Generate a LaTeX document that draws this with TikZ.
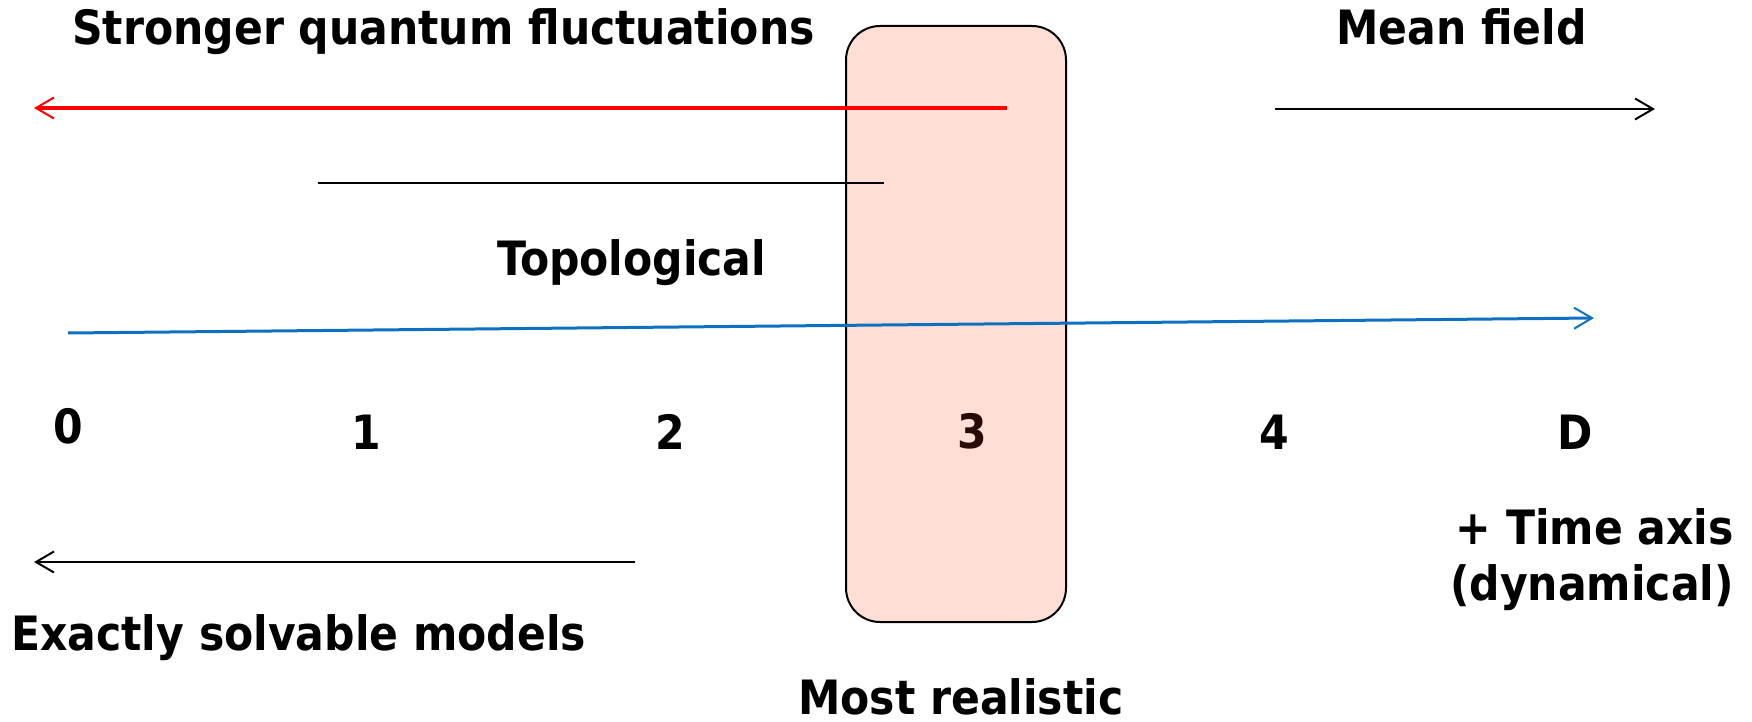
\documentclass[tikz,border=0pt]{standalone}
\usepackage{fontspec}
\setmainfont{DejaVu Sans Condensed}
\usetikzlibrary{arrows.meta}
\definecolor{boxfill}{HTML}{FFDED6}
\definecolor{axisblue}{HTML}{1070C0}
\definecolor{threebrown}{HTML}{2A0A05}
\tikzset{
  lbl/.style={font=\fontsize{47.3}{56}\selectfont\bfseries, inner sep=0pt},
  tip/.style={-{Straight Barb[length=18pt,width=21pt,line width=2pt]}},
}
\begin{document}
\begin{tikzpicture}[x=1pt,y=-1pt]
\useasboundingbox (0,0) rectangle (1752,722);
% dimension 3 highlight box
\node[draw=black, line width=2pt, fill=boxfill, rounded corners=34pt,
      minimum width=220pt, minimum height=596pt] (box) at (956,324) {};
% headings
\node[lbl, anchor=base west] (strong) at (72,45) {Stronger quantum fluctuations};
\node[lbl, anchor=base west] (mf) at (1336,45) {Mean field};
\node[lbl, anchor=base west] (topo) at (497,275) {Topological};
\node[lbl, anchor=base west] (exact) at (11,650) {Exactly solvable models};
\node[lbl, anchor=base west] (real) at (798,714) {Most realistic};
\node[lbl, anchor=base east] (time) at (1734,544) {+ Time axis};
\node[lbl, anchor=base east] (dyn) at (1734,600) {(dynamical)};
% dimension labels
\node[lbl, anchor=base] (d0) at (68,443) {0};
\node[lbl, anchor=base] (d1) at (366,449) {1};
\node[lbl, anchor=base] (d2) at (670,449) {2};
\node[lbl, anchor=base, text=threebrown] (d3) at (972,448) {3};
\node[lbl, anchor=base] (d4) at (1274,449) {4};
\node[lbl, anchor=base] (dD) at (1575,449) {D};
% arrows
\coordinate (redS) at (1007,108);
\coordinate (redE) at (34,108);
\draw[red, line width=4pt, tip] (redS) -- (redE);
\coordinate (mfS) at (1275,109);
\coordinate (mfE) at (1655,109);
\draw[black, line width=2pt, tip] (mfS) -- (mfE);
\coordinate (topS) at (318,183);
\coordinate (topE) at (884,183);
\draw[black, line width=2pt] (topS) -- (topE);
\coordinate (bluS) at (68,333);
\coordinate (bluE) at (1594,318);
\draw[axisblue, line width=3pt, tip] (bluS) -- (bluE);
\coordinate (exS) at (635,562);
\coordinate (exE) at (34,562);
\draw[black, line width=2pt, tip] (exS) -- (exE);
\end{tikzpicture}
\end{document}
